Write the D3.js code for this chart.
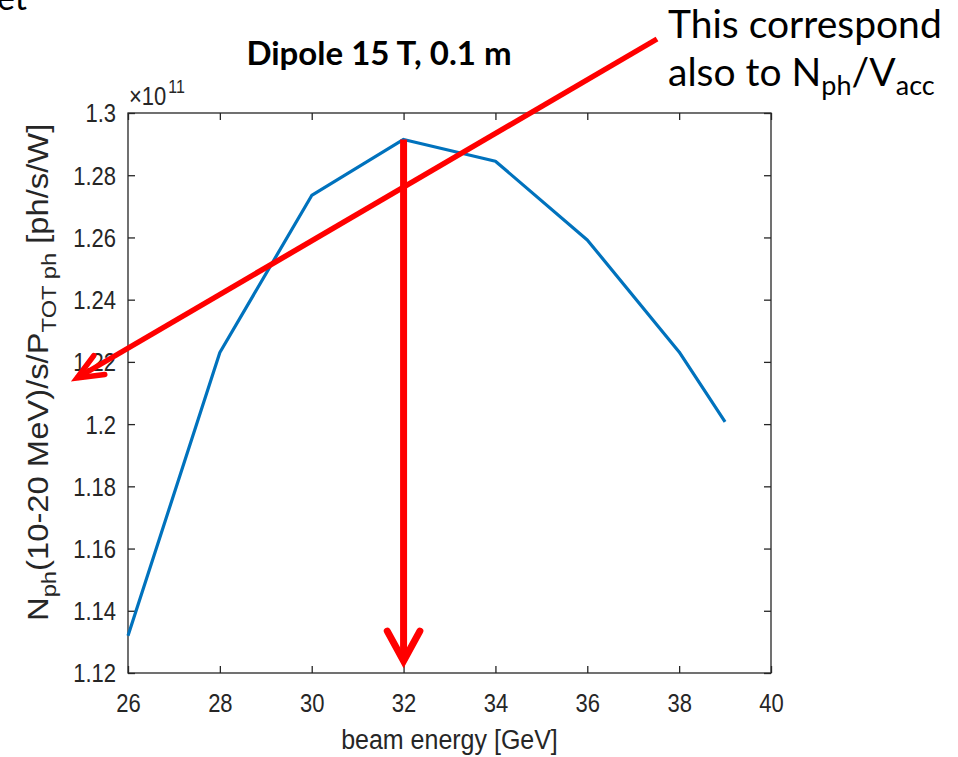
<!DOCTYPE html>
<html>
<head>
<meta charset="utf-8">
<script src="https://cdn.jsdelivr.net/npm/d3@7"></script>
<style>
  html, body { margin: 0; padding: 0; background: #fff; }
  svg { display: block; }
</style>
</head>
<body>
<svg id="chart" width="958" height="757"></svg>
<script>
// Photon yield per radiated power vs beam energy (dipole 15 T, 0.1 m)
const energies = [26, 28, 30, 32, 34, 36, 38, 39];
const yieldVals = [1.132, 1.223, 1.2735, 1.2915, 1.2845, 1.2592, 1.2232, 1.2007]; // ×1e11
const xTicks = [26, 28, 30, 32, 34, 36, 38, 40];
const yTicks = [1.12, 1.14, 1.16, 1.18, 1.2, 1.22, 1.24, 1.26, 1.28, 1.3];
const peakEnergy = 32;
const peakValue = 1.2915;

(function () {
const svg = d3.select("#chart");
const plotL = 128, plotR = 771, plotT = 113, plotB = 673;
const stretch = 1.13; // the figure is taller than its native aspect

const x = d3.scaleLinear().domain([26, 40]).range([plotL, plotR]);
const y = d3.scaleLinear().domain([1.12, 1.3]).range([plotB, plotT]);

const axisColor = "#262626";
const axisFont = "'Liberation Sans', Arial, Helvetica, sans-serif";
const calloutFont = "Lato, 'Open Sans', sans-serif";

// Frame box
svg.append("rect")
  .attr("x", plotL).attr("y", plotT)
  .attr("width", plotR - plotL).attr("height", plotB - plotT)
  .attr("fill", "none").attr("stroke", axisColor).attr("stroke-width", 1.3);

const tickLen = 7;
function styleAxis(g) {
  g.select(".domain").remove();
  g.selectAll(".tick line").attr("stroke", axisColor).attr("stroke-width", 1.3);
  g.selectAll(".tick text")
    .attr("fill", axisColor)
    .style("font-family", axisFont)
    .style("font-size", "22px");
}

// Bottom axis (ticks pointing inward)
svg.append("g").attr("transform", `translate(0,${plotB})`)
  .call(d3.axisBottom(x).tickValues(xTicks).tickSizeInner(-tickLen).tickSizeOuter(0).tickFormat(d3.format("d")))
  .call(styleAxis)
  .call(g => g.selectAll(".tick text")
    .attr("x", 0).attr("y", 0).attr("dy", 0)
    .attr("transform", `translate(0,39) scale(1,${stretch})`));
// Top axis ticks
svg.append("g").attr("transform", `translate(0,${plotT})`)
  .call(d3.axisTop(x).tickValues(xTicks).tickSizeInner(-tickLen).tickSizeOuter(0).tickFormat(""))
  .call(styleAxis);
// Left axis
svg.append("g").attr("transform", `translate(${plotL},0)`)
  .call(d3.axisLeft(y).tickValues(yTicks).tickSizeInner(-tickLen).tickSizeOuter(0)
    .tickFormat(d => String(+d.toFixed(2))))
  .call(styleAxis)
  .call(g => g.selectAll(".tick text")
    .attr("x", 0).attr("y", 0).attr("dy", "0.36em")
    .attr("transform", `translate(-12,0) scale(1,${stretch})`));
// Right axis ticks
svg.append("g").attr("transform", `translate(${plotR},0)`)
  .call(d3.axisRight(y).tickValues(yTicks).tickSizeInner(-tickLen).tickSizeOuter(0).tickFormat(""))
  .call(styleAxis);

// Exponent label
const expo = svg.append("text")
  .attr("transform", `translate(${plotL + 1},${plotT - 8}) scale(1,${stretch})`)
  .attr("fill", axisColor)
  .style("font-family", axisFont).style("font-size", "22px");
expo.append("tspan").text("×10");
expo.append("tspan").attr("dx", 2).attr("dy", -11).style("font-size", "16px").text("11");

// Data line
const line = d3.line().x((d, i) => x(energies[i])).y(d => y(d));
svg.append("path")
  .datum(yieldVals)
  .attr("d", line)
  .attr("fill", "none")
  .attr("stroke", "#0072BD")
  .attr("stroke-width", 3.2)
  .attr("stroke-linejoin", "round");

// X axis label
svg.append("text")
  .attr("transform", `translate(${(plotL + plotR) / 2},749) scale(1,${stretch})`)
  .attr("text-anchor", "middle")
  .attr("fill", axisColor)
  .style("font-family", axisFont).style("font-size", "25px")
  .text("beam energy [GeV]");

// Y axis label with subscripts
const yl = svg.append("text")
  .attr("transform", `translate(48,621) rotate(-90) scale(${stretch},1)`)
  .attr("text-anchor", "start")
  .attr("fill", axisColor)
  .style("font-family", axisFont).style("font-size", "29px");
yl.append("tspan").text("N");
yl.append("tspan").attr("dy", 8).style("font-size", "21px").text("ph");
yl.append("tspan").attr("dy", -8).text("(10-20 MeV)/s/P");
yl.append("tspan").attr("dy", 8).style("font-size", "21px").text("TOT ph");
yl.append("tspan").attr("dy", -8).text(" [ph/s/W]");

// Title
svg.append("text")
  .attr("x", 379).attr("y", 65)
  .attr("text-anchor", "middle")
  .attr("fill", "#000")
  .style("font-family", calloutFont).style("font-weight", "bold").style("font-size", "33px")
  .text("Dipole 15 T, 0.1 m");

// Callout text
svg.append("text")
  .attr("x", 668).attr("y", 38)
  .attr("fill", "#000")
  .style("font-family", calloutFont).style("font-size", "39px")
  .text("This correspond");
const c2 = svg.append("text")
  .attr("x", 668).attr("y", 86)
  .attr("fill", "#000")
  .style("font-family", calloutFont).style("font-size", "39px");
c2.append("tspan").text("also to N");
c2.append("tspan").attr("dy", 9).style("font-size", "27px").text("ph");
c2.append("tspan").attr("dy", -9).text("/V");
c2.append("tspan").attr("dy", 9).style("font-size", "27px").text("acc");

// Fragment of text at the page corner
svg.append("text")
  .attr("x", -3).attr("y", 10)
  .attr("fill", "#000")
  .style("font-family", calloutFont).style("font-size", "34px")
  .text("et");

// Red annotation arrows
const red = "#FF0000";
function arrow(x1, y1, x2, y2, width, head, spread) {
  svg.append("line")
    .attr("x1", x1).attr("y1", y1).attr("x2", x2).attr("y2", y2)
    .attr("stroke", red).attr("stroke-width", width).attr("stroke-linecap", "butt");
  const ang = Math.atan2(y2 - y1, x2 - x1);
  const pts = [
    [x2 - head * Math.cos(ang - spread), y2 - head * Math.sin(ang - spread)],
    [x2, y2],
    [x2 - head * Math.cos(ang + spread), y2 - head * Math.sin(ang + spread)]
  ];
  svg.append("path")
    .attr("d", d3.line()(pts))
    .attr("fill", "none").attr("stroke", red).attr("stroke-width", width)
    .attr("stroke-linejoin", "miter").attr("stroke-linecap", "round");
}
// Diagonal arrow from the callout to the y axis label
arrow(657, 39, 77, 378, 5.5, 28, 0.4);
// Vertical arrow from the peak down to the x axis
arrow(x(peakEnergy), y(peakValue), x(peakEnergy), 661, 7, 34, 0.5);
})();
</script>
</body>
</html>
